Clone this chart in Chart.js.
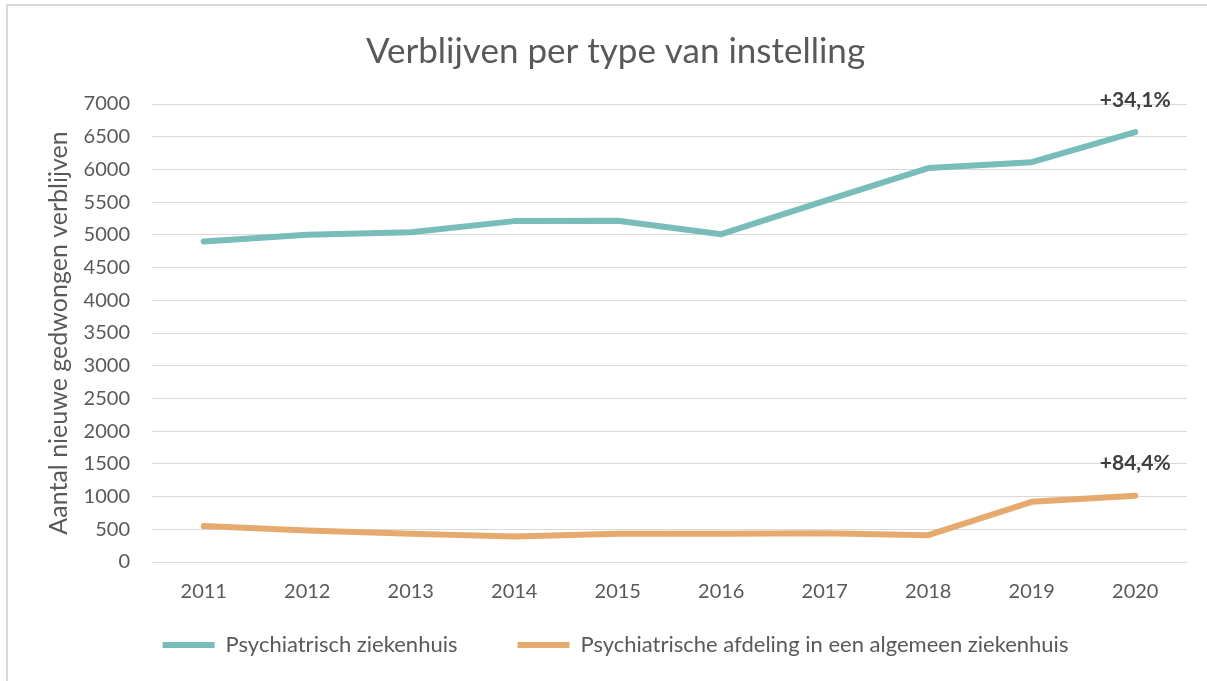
<!DOCTYPE html>
<html><head><meta charset="utf-8">
<script src="https://cdn.jsdelivr.net/npm/chart.js@4.4.1/dist/chart.umd.min.js"></script>
<style>
html,body{margin:0;padding:0;background:#fff;}
#wrap{position:relative;width:1207px;height:681px;}
#frameTop{position:absolute;left:6px;top:4px;right:0;height:2px;background:#d9d9d9;}
#frameLeft{position:absolute;left:6px;top:4px;bottom:0;width:2px;background:#d9d9d9;}
canvas{position:absolute;left:0;top:0;}
</style></head>
<body>
<div id="wrap"><canvas id="c" width="1207" height="681"></canvas><div id="frameTop"></div><div id="frameLeft"></div></div>
<script>
const years = ['2011','2012','2013','2014','2015','2016','2017','2018','2019','2020'];
const psychZiekenhuis = [4900, 5000, 5040, 5210, 5215, 5010, 5520, 6020, 6110, 6570];
const psychAfdeling = [550, 480, 430, 390, 430, 430, 440, 410, 920, 1014];
const seriesNames = ['Psychiatrisch ziekenhuis', 'Psychiatrische afdeling in een algemeen ziekenhuis'];
const changeLabels = ['+34,1%', '+84,4%'];
const yTicks = [0,500,1000,1500,2000,2500,3000,3500,4000,4500,5000,5500,6000,6500,7000];

const TEAL = '#78bdba';
const ORANGE = '#e7aa6e';
const TXT = '#595959';
const FONT = 'Lato, "Open Sans", sans-serif';

const annot = {
  id: 'annot',
  afterDatasetsDraw(chart) {
    const ctx = chart.ctx;
    const xs = chart.scales.x, ys = chart.scales.y;
    ctx.save();
    ctx.font = 'bold 21px ' + FONT;
    ctx.fillStyle = '#404040';
    ctx.textAlign = 'center';
    ctx.textBaseline = 'middle';
    chart.data.datasets.forEach((ds, i) => {
      const last = ds.data.length - 1;
      const x = xs.getPixelForValue(last);
      const y = ys.getPixelForValue(ds.data[last]);
      ctx.fillText(changeLabels[i], x, y - 32);
    });
    ctx.restore();
  }
};

new Chart(document.getElementById('c'), {
  type: 'line',
  data: {
    labels: years,
    datasets: [
      {label: seriesNames[0], data: psychZiekenhuis, borderColor: TEAL, backgroundColor: TEAL, borderWidth: 6, pointRadius: 0, tension: 0, borderCapStyle: 'round', borderJoinStyle: 'round'},
      {label: seriesNames[1], data: psychAfdeling, borderColor: ORANGE, backgroundColor: ORANGE, borderWidth: 6, pointRadius: 0, tension: 0, borderCapStyle: 'round', borderJoinStyle: 'round'}
    ]
  },
  options: {
    responsive: false,
    animation: false,
    layout: {padding: {left: 44, right: 20, top: 0, bottom: 15}},
    plugins: {
      title: {display: true, text: 'Verblijven per type van instelling', color: TXT,
        font: {family: FONT, size: 35, weight: 'normal'}, padding: {top: 31, bottom: 31}},
      legend: {position: 'bottom', align: 'center',
        labels: {usePointStyle: true, pointStyle: 'line', pointStyleWidth: 52, boxHeight: 5,
          color: TXT, font: {family: FONT, size: 22}, padding: 60}},
      tooltip: {enabled: false}
    },
    scales: {
      x: {
        offset: true,
        grid: {display: false, drawTicks: false},
        border: {display: false},
        ticks: {color: TXT, font: {family: FONT, size: 20}, padding: 18},
        afterFit(s) { s.height = 12; s._computeLabelArea = () => undefined; }
      },
      y: {
        min: 0, max: 7000,
        afterBuildTicks(s) { s.ticks = yTicks.map(v => ({value: v})); },
        grid: {color: '#d9d9d9', lineWidth: 1, drawTicks: false},
        border: {display: false},
        ticks: {color: TXT, font: {family: FONT, size: 20}, padding: 22, callback: v => String(v)},
        title: {display: true, text: 'Aantal nieuwe gedwongen verblijven', color: TXT,
          font: {family: FONT, size: 25}, padding: {top: 0, bottom: 0}},
        afterFit(s) { s.width = 108; }
      }
    }
  },
  plugins: [annot]
});
</script>
</body></html>
